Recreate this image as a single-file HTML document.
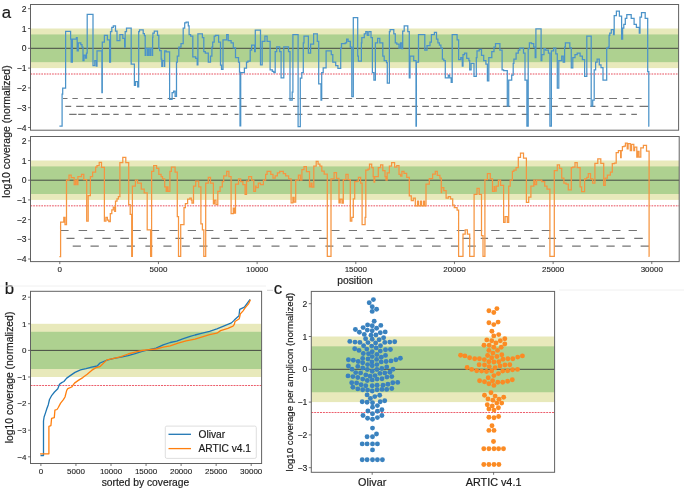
<!DOCTYPE html>
<html><head><meta charset="utf-8"><style>
html,body{margin:0;padding:0;background:#fff;width:684px;height:488px;overflow:hidden}
svg{display:block;will-change:transform}
</style></head><body>
<svg width="684" height="488" viewBox="0 0 684 488" font-family='"Liberation Sans", sans-serif'>
<rect width="684" height="488" fill="#fff"/>
<rect x="30.5" y="28.499999999999996" width="648.1" height="39.6" fill="#e8e9bb"/>
<rect x="30.5" y="34.44" width="648.1" height="27.72" fill="#aed190"/>
<line x1="30.5" y1="48.3" x2="678.6" y2="48.3" stroke="#3a3a3a" stroke-width="0.9"/>
<line x1="30.5" y1="74.03999999999999" x2="678.6" y2="74.03999999999999" stroke="#f08a94" stroke-width="1.4" stroke-dasharray="1.7 1"/>
<path d="M63.0 98.5H67.5M72.4 98.5H77.8M84.4 98.5H91.4M96.3 98.5H102.6M106.3 98.5H111.7M117.2 98.5H125.4M130.3 98.5H134.9M142.7 98.5H150.1M156.4 98.5H162.3M167.6 98.5H175.2M180.5 98.5H185.7M190.6 98.5H196.3M202.9 98.5H208.7M213.6 98.5H221.0M226.2 98.5H232.4M237.6 98.5H243.8M250.4 98.5H256.6M262.5 98.5H270.1M274.4 98.5H282.4M288.6 98.5H294.8M299.7 98.5H306.3M311.0 98.5H317.6M321.9 98.5H328.7M333.0 98.5H338.7M345.3 98.5H352.1M356.0 98.5H364.0M369.2 98.5H376.2M383.5 98.5H390.9M396.9 98.5H404.3M409.4 98.5H414.8M419.5 98.5H424.8M431.0 98.5H437.2M439.2 98.5H446.0M451.5 98.5H458.3M462.6 98.5H470.0M475.4 98.5H482.8M488.3 98.5H495.7M500.6 98.5H507.7M512.4 98.5H519.8M527.0 98.5H533.3M536.4 98.5H540.9M547.5 98.5H552.6M558.6 98.5H566.0M572.7 98.5H580.8M586.8 98.5H590.7M595.0 98.5H603.6M609.1 98.5H617.0M623.1 98.5H628.7M635.4 98.5H641.6M65.3 106.4H71.2M76.2 106.4H83.6M87.6 106.4H94.4M98.1 106.4H105.1M110.1 106.4H117.2M120.7 106.4H128.5M132.5 106.4H140.7M147.9 106.4H155.3M159.4 106.4H167.0M171.1 106.4H178.7M183.6 106.4H189.8M192.4 106.4H199.8M207.0 106.4H212.8M217.7 106.4H225.7M230.5 106.4H236.8M240.5 106.4H246.7M255.5 106.4H260.7M268.3 106.4H273.6M279.7 106.4H286.6M293.0 106.4H298.9M302.6 106.4H309.4M313.1 106.4H320.0M326.6 106.4H332.2M337.1 106.4H343.3M348.0 106.4H353.9M361.2 106.4H367.5M374.7 106.4H382.7M388.7 106.4H395.0M402.2 106.4H409.6M411.8 106.4H417.8M422.3 106.4H428.9M433.2 106.4H439.0M444.2 106.4H451.2M456.4 106.4H462.3M468.4 106.4H475.8M479.5 106.4H487.5M491.8 106.4H499.8M502.9 106.4H510.4M517.7 106.4H525.1M528.8 106.4H535.6M539.3 106.4H545.5M551.0 106.4H557.8M564.5 106.4H571.3M577.3 106.4H584.9M590.3 106.4H595.4M601.5 106.4H608.3M614.3 106.4H622.3M626.6 106.4H633.4M639.5 106.4H648.4M69.2 114.3H76.6M78.2 114.3H85.6M91.1 114.3H97.9M101.9 114.3H109.6M113.3 114.3H118.7M125.3 114.3H131.8M138.6 114.3H145.4M152.6 114.3H159.4M165.3 114.3H170.0M176.0 114.3H182.8M187.1 114.3H192.8M197.7 114.3H204.5M210.7 114.3H217.5M222.9 114.3H228.0M234.6 114.3H238.5M245.2 114.3H252.6M258.0 114.3H265.4M271.5 114.3H277.7M283.2 114.3H290.7M295.0 114.3H302.4M307.5 114.3H312.3M317.8 114.3H325.8M328.9 114.3H335.7M340.0 114.3H347.4M352.3 114.3H358.1M365.3 114.3H372.7M379.4 114.3H386.8M391.9 114.3H399.0M406.3 114.3H411.9M416.2 114.3H420.7M426.7 114.3H433.7M436.2 114.3H443.6M448.5 114.3H455.9M459.6 114.3H467.6M471.9 114.3H478.7M484.2 114.3H491.0M495.3 114.3H503.3M508.2 114.3H515.7M521.8 114.3H528.0M534.1 114.3H539.1M544.6 114.3H550.2M556.3 114.3H563.1M568.6 114.3H573.6M580.8 114.3H589.0M593.3 114.3H601.2M606.1 114.3H611.8M619.6 114.3H625.8M631.3 114.3H636.9" stroke="#747474" stroke-width="1.2" fill="none"/>
<polyline points="59.4,126.1 62.1,126.1 62.1,94.1 62.7,94.1 62.7,88.2 65.6,88.2 65.6,31.3 70.6,31.3 70.6,39.0 71.2,39.0 71.2,62.0 72.4,62.0 72.4,39.0 76.4,39.0 76.4,37.6 77.2,37.6 77.2,50.9 78.3,50.9 78.3,42.8 80.8,42.8 80.8,44.5 82.0,44.5 82.0,47.0 83.0,47.0 83.0,60.5 84.0,60.5 84.0,55.0 85.5,55.0 85.5,58.0 86.5,58.0 86.5,53.0 87.2,53.0 87.2,14.3 93.0,14.3 93.0,65.6 94.8,65.6 94.8,60.5 96.3,60.5 96.3,66.0 97.0,66.0 97.0,50.9 101.9,50.9 101.9,92.7 102.3,92.7 102.3,42.0 104.4,42.0 104.4,35.4 107.4,35.4 107.4,39.8 109.6,39.8 109.6,62.0 110.5,62.0 110.5,31.7 111.8,31.7 111.8,27.3 113.3,27.3 113.3,25.8 115.5,25.8 115.5,31.0 117.0,31.0 117.0,40.6 119.9,40.6 119.9,34.7 122.8,34.7 122.8,38.3 124.6,38.3 124.6,47.2 125.2,47.2 125.2,31.7 126.5,31.7 126.5,28.0 131.2,28.0 131.2,64.2 134.4,64.2 134.4,85.3 135.5,85.3 135.5,81.6 137.7,81.6 137.7,86.8 138.7,86.8 138.7,31.7 139.5,31.7 139.5,29.9 143.2,29.9 143.2,33.6 144.4,33.6 144.4,35.7 145.2,35.7 145.2,55.3 145.5,55.3 145.5,48.4 147.2,48.4 147.2,55.3 147.5,55.3 147.5,48.4 148.8,48.4 148.8,55.3 149.1,55.3 149.1,48.4 150.5,48.4 150.5,55.3 150.8,55.3 150.8,48.4 152.4,48.4 152.4,55.3 152.6,55.3 152.6,37.3 152.9,37.3 152.9,33.2 154.3,33.2 154.3,31.1 157.5,31.1 157.5,35.3 158.8,35.3 158.8,48.4 159.6,48.4 159.6,50.5 161.2,50.5 161.2,59.0 161.8,59.0 161.8,66.4 162.5,66.4 162.5,60.5 164.3,60.5 164.3,66.4 164.7,66.4 164.7,50.9 166.2,50.9 166.2,51.9 169.6,51.9 169.6,99.3 172.1,99.3 172.1,92.7 173.6,92.7 173.6,91.2 175.1,91.2 175.1,96.3 176.5,96.3 176.5,62.0 177.3,62.0 177.3,56.0 178.8,56.0 178.8,47.2 181.0,47.2 181.0,43.5 183.2,43.5 183.2,28.0 184.7,28.0 184.7,22.9 186.1,22.9 186.1,22.1 188.3,22.1 188.3,25.8 189.1,25.8 189.1,34.7 190.6,34.7 190.6,36.1 192.8,36.1 192.8,56.8 195.7,56.8 195.7,58.3 197.2,58.3 197.2,64.9 197.9,64.9 197.9,33.9 202.4,33.9 202.4,37.6 203.8,37.6 203.8,51.6 205.3,51.6 205.3,53.1 208.3,53.1 208.3,62.0 210.5,62.0 210.5,56.0 211.9,56.0 211.9,47.0 212.7,47.0 212.7,42.0 214.2,42.0 214.2,36.1 215.6,36.1 215.6,35.4 218.6,35.4 218.6,42.0 220.5,42.0 220.5,65.0 221.5,65.0 221.5,69.3 223.0,69.3 223.0,39.8 226.7,39.8 226.7,34.7 228.2,34.7 228.2,40.6 231.1,40.6 231.1,42.8 233.3,42.8 233.3,47.9 235.5,47.9 235.5,57.5 238.5,57.5 238.5,62.0 239.5,62.0 239.5,72.0 240.0,72.0 240.0,125.8 240.7,125.8 240.7,72.7 244.4,72.7 244.4,68.0 246.5,68.0 246.5,62.0 247.9,62.0 247.9,61.2 250.2,61.2 250.2,50.1 251.6,50.1 251.6,45.0 254.6,45.0 254.6,51.6 255.3,51.6 255.3,30.2 260.5,30.2 260.5,64.9 262.2,64.9 262.2,41.3 264.9,41.3 264.9,36.1 267.1,36.1 267.1,41.3 270.1,41.3 270.1,69.8 272.3,69.8 272.3,71.3 273.8,71.3 273.8,72.7 275.2,72.7 275.2,51.6 276.7,51.6 276.7,46.9 279.7,46.9 279.7,51.6 281.1,51.6 281.1,77.9 283.8,77.9 283.8,46.9 288.5,46.9 288.5,51.6 290.0,51.6 290.0,100.0 292.2,100.0 292.2,92.0 292.9,92.0 292.9,34.7 298.1,34.7 298.1,126.6 300.3,126.6 300.3,78.0 301.8,78.0 301.8,72.7 303.3,72.7 303.3,42.8 304.0,42.8 304.0,36.1 308.4,36.1 308.4,53.1 310.6,53.1 310.6,44.2 313.6,44.2 313.6,33.9 317.3,33.9 317.3,41.3 318.7,41.3 318.7,83.8 321.0,83.8 321.0,100.0 321.7,100.0 321.7,72.7 323.2,72.7 323.2,67.8 326.1,67.8 326.1,50.9 331.3,50.9 331.3,54.6 332.8,54.6 332.8,62.0 335.7,62.0 335.7,65.5 337.9,65.5 337.9,68.3 340.7,68.3 340.7,48.0 341.5,48.0 341.5,43.5 345.2,43.5 345.2,42.8 346.6,42.8 346.6,39.0 348.1,39.0 348.1,41.3 350.3,41.3 350.3,47.2 351.8,47.2 351.8,96.6 353.3,96.6 353.3,17.7 357.7,17.7 357.7,56.0 358.4,56.0 358.4,61.2 361.4,61.2 361.4,42.8 361.8,42.8 361.8,37.6 364.3,37.6 364.3,33.9 365.8,33.9 365.8,31.7 367.3,31.7 367.3,35.4 368.8,35.4 368.8,31.7 371.0,31.7 371.0,37.6 372.4,37.6 372.4,72.7 373.9,72.7 373.9,80.1 375.4,80.1 375.4,42.8 377.6,42.8 377.6,38.3 379.8,38.3 379.8,42.8 382.8,42.8 382.8,56.0 384.2,56.0 384.2,60.5 386.5,60.5 386.5,62.5 387.3,62.5 387.3,83.0 389.4,83.0 389.4,31.7 390.1,31.7 390.1,29.5 393.8,29.5 393.8,33.9 395.3,33.9 395.3,42.8 396.8,42.8 396.8,44.2 399.0,44.2 399.0,48.0 400.5,48.0 400.5,42.8 401.9,42.8 401.9,48.7 402.7,48.7 402.7,31.0 404.2,31.0 404.2,25.8 407.8,25.8 407.8,31.7 409.3,31.7 409.3,77.9 410.0,77.9 410.0,56.0 413.7,56.0 413.7,60.5 416.0,60.5 416.0,126.1 416.4,126.1 416.4,62.0 418.5,62.0 418.5,34.7 424.8,34.7 424.8,50.1 427.0,50.1 427.0,45.7 430.0,45.7 430.0,42.0 431.4,42.0 431.4,34.7 434.4,34.7 434.4,32.4 436.5,32.4 436.5,39.1 437.9,39.1 437.9,42.8 439.4,42.8 439.4,45.0 440.9,45.0 440.9,48.0 442.4,48.0 442.4,59.0 443.8,59.0 443.8,60.5 445.3,60.5 445.3,77.9 448.3,77.9 448.3,75.0 449.7,75.0 449.7,77.9 451.2,77.9 451.2,82.3 452.2,82.3 452.2,34.7 457.1,34.7 457.1,39.8 458.6,39.8 458.6,59.7 460.8,59.7 460.8,57.5 462.3,57.5 462.3,66.1 463.0,66.1 463.0,54.6 464.5,54.6 464.5,53.1 466.7,53.1 466.7,58.3 468.9,58.3 468.9,60.5 469.7,60.5 469.7,69.8 471.1,69.8 471.1,63.4 474.0,63.4 474.0,76.4 476.3,76.4 476.3,57.5 477.0,57.5 477.0,50.9 479.2,50.9 479.2,49.4 481.5,49.4 481.5,55.3 483.7,55.3 483.7,60.5 485.9,60.5 485.9,64.2 487.4,64.2 487.4,80.9 488.8,80.9 488.8,57.5 491.8,57.5 491.8,51.6 494.0,51.6 494.0,47.2 495.5,47.2 495.5,43.5 499.9,43.5 499.9,50.1 502.1,50.1 502.1,69.8 503.6,69.8 503.6,70.5 507.3,70.5 507.3,106.0 508.7,106.0 508.7,80.1 511.7,80.1 511.7,75.0 513.2,75.0 513.2,63.4 513.9,63.4 513.9,59.0 516.1,59.0 516.1,53.1 518.3,53.1 518.3,50.1 519.8,50.1 519.8,48.0 523.5,48.0 523.5,53.1 525.0,53.1 525.0,80.1 526.9,80.1 526.9,126.1 528.2,126.1 528.2,48.7 529.4,48.7 529.4,42.8 531.5,42.8 531.5,43.5 533.7,43.5 533.7,47.2 535.2,47.2 535.2,57.5 535.9,57.5 535.9,28.8 541.1,28.8 541.1,60.5 541.8,60.5 541.8,54.6 544.0,54.6 544.0,48.7 545.5,48.7 545.5,50.1 548.4,50.1 548.4,53.1 549.9,53.1 549.9,126.1 551.4,126.1 551.4,50.9 553.6,50.9 553.6,48.0 555.8,48.0 555.8,53.8 557.3,53.8 557.3,88.2 558.8,88.2 558.8,60.5 561.7,60.5 561.7,56.0 563.2,56.0 563.2,62.0 564.6,62.0 564.6,47.2 565.4,47.2 565.4,42.8 569.8,42.8 569.8,47.9 571.3,47.9 571.3,67.8 572.8,67.8 572.8,57.5 575.0,57.5 575.0,54.6 577.2,54.6 577.2,53.1 580.1,53.1 580.1,56.0 582.4,56.0 582.4,59.7 584.6,59.7 584.6,76.4 586.8,76.4 586.8,36.1 591.2,36.1 591.2,106.0 592.7,106.0 592.7,100.0 594.2,100.0 594.2,69.8 595.6,69.8 595.6,62.0 597.1,62.0 597.1,59.0 599.3,59.0 599.3,64.9 601.0,64.9 601.0,67.6 603.0,67.6 603.0,80.1 606.7,80.1 606.7,48.0 608.3,48.0 608.3,47.2 609.1,47.2 609.1,35.4 609.8,35.4 609.8,33.2 611.3,33.2 611.3,29.5 613.5,29.5 613.5,34.7 614.2,34.7 614.2,15.5 616.4,15.5 616.4,11.1 619.4,11.1 619.4,16.2 621.6,16.2 621.6,39.1 622.6,39.1 622.6,28.0 623.8,28.0 623.8,24.3 625.3,24.3 625.3,18.4 626.8,18.4 626.8,14.7 631.2,14.7 631.2,18.4 634.1,18.4 634.1,24.3 636.4,24.3 636.4,27.3 639.3,27.3 639.3,33.2 640.0,33.2 640.0,17.0 641.5,17.0 641.5,12.5 645.2,12.5 645.2,18.4 647.7,18.4 647.7,71.7 648.8,71.7 648.8,126.2 649.3,126.2 649.3,126.2" fill="none" stroke="#4b93c9" stroke-width="1.25" stroke-linejoin="miter"/>
<rect x="30.5" y="4.5" width="648.1" height="125.69999999999999" fill="none" stroke="#626262" stroke-width="1"/>
<line x1="28.0" y1="127.5" x2="30.5" y2="127.5" stroke="#505050" stroke-width="0.8"/>
<text x="26.5" y="130.58" font-size="8.6" text-anchor="end" fill="#1a1a1a" stroke="#1a1a1a" stroke-width="0.1">−4</text>
<line x1="28.0" y1="107.7" x2="30.5" y2="107.7" stroke="#505050" stroke-width="0.8"/>
<text x="26.5" y="110.78" font-size="8.6" text-anchor="end" fill="#1a1a1a" stroke="#1a1a1a" stroke-width="0.1">−3</text>
<line x1="28.0" y1="87.9" x2="30.5" y2="87.9" stroke="#505050" stroke-width="0.8"/>
<text x="26.5" y="90.98" font-size="8.6" text-anchor="end" fill="#1a1a1a" stroke="#1a1a1a" stroke-width="0.1">−2</text>
<line x1="28.0" y1="68.1" x2="30.5" y2="68.1" stroke="#505050" stroke-width="0.8"/>
<text x="26.5" y="71.18" font-size="8.6" text-anchor="end" fill="#1a1a1a" stroke="#1a1a1a" stroke-width="0.1">−1</text>
<line x1="28.0" y1="48.3" x2="30.5" y2="48.3" stroke="#505050" stroke-width="0.8"/>
<text x="26.5" y="51.38" font-size="8.6" text-anchor="end" fill="#1a1a1a" stroke="#1a1a1a" stroke-width="0.1">0</text>
<line x1="28.0" y1="28.499999999999996" x2="30.5" y2="28.499999999999996" stroke="#505050" stroke-width="0.8"/>
<text x="26.5" y="31.58" font-size="8.6" text-anchor="end" fill="#1a1a1a" stroke="#1a1a1a" stroke-width="0.1">1</text>
<line x1="28.0" y1="8.699999999999996" x2="30.5" y2="8.699999999999996" stroke="#505050" stroke-width="0.8"/>
<text x="26.5" y="11.78" font-size="8.6" text-anchor="end" fill="#1a1a1a" stroke="#1a1a1a" stroke-width="0.1">2</text>
<rect x="30.5" y="160.5" width="648.7" height="39.4" fill="#e8e9bb"/>
<rect x="30.5" y="166.41" width="648.7" height="27.58" fill="#aed190"/>
<line x1="30.5" y1="180.2" x2="679.2" y2="180.2" stroke="#3a3a3a" stroke-width="0.9"/>
<line x1="30.5" y1="205.81" x2="679.2" y2="205.81" stroke="#f08a94" stroke-width="1.4" stroke-dasharray="1.7 1"/>
<path d="M60.7 230.5H68.6M78.6 230.5H87.1M96.3 230.5H104.7M114.8 230.5H123.4M132.3 230.5H140.7M151.2 230.5H159.1M169.6 230.5H177.6M187.7 230.5H196.0M205.3 230.5H213.4M223.9 230.5H232.1M240.5 230.5H248.8M258.6 230.5H267.2M277.0 230.5H285.4M295.4 230.5H303.6M313.1 230.5H321.5M331.3 230.5H339.5M348.8 230.5H357.0M366.5 230.5H374.5M383.5 230.5H391.8M401.6 230.5H409.6M419.7 230.5H428.3M438.6 230.5H446.6M456.7 230.5H464.7M474.3 230.5H482.2M491.2 230.5H499.5M506.8 230.5H516.3M524.1 230.5H532.7M541.7 230.5H550.2M559.4 230.5H568.3M577.3 230.5H586.0M595.6 230.5H603.9M612.2 230.5H620.5M628.6 230.5H636.9M66.5 238.4H74.5M84.4 238.4H92.6M102.4 238.4H110.7M120.3 238.4H128.9M138.6 238.4H146.9M157.1 238.4H165.3M175.4 238.4H183.6M193.0 238.4H201.2M211.2 238.4H219.6M229.4 238.4H237.9M246.9 238.4H254.9M265.0 238.4H273.6M282.8 238.4H291.3M301.2 238.4H309.4M319.0 238.4H327.0M337.1 238.4H345.3M355.3 238.4H363.0M372.7 238.4H380.9M389.3 238.4H397.6M407.4 238.4H415.7M425.6 238.4H434.6M444.4 238.4H452.4M462.6 238.4H470.5M480.7 238.4H488.1M495.9 238.4H503.9M512.4 238.4H521.0M530.5 238.4H538.8M548.1 238.4H556.1M565.6 238.4H574.2M583.5 238.4H592.5M601.5 238.4H609.8M616.1 238.4H624.6M634.2 238.4H642.8M72.7 246.2H80.9M90.5 246.2H98.8M109.0 246.2H117.2M126.7 246.2H134.9M145.4 246.2H153.0M163.4 246.2H171.5M181.9 246.2H189.8M199.4 246.2H207.5M217.7 246.2H225.7M235.6 246.2H244.1M252.8 246.2H260.7M271.5 246.2H279.5M289.5 246.2H297.7M307.1 246.2H315.3M325.4 246.2H333.4M343.0 246.2H351.2M360.1 246.2H368.4M377.6 246.2H385.9M395.2 246.2H403.5M413.3 246.2H421.9M432.0 246.2H440.7M450.9 246.2H458.8M467.8 246.2H475.8M485.4 246.2H492.8M502.0 246.2H509.9M518.0 246.2H526.2M537.0 246.2H545.0M554.3 246.2H562.5M572.1 246.2H580.8M590.3 246.2H598.3M606.4 246.2H614.7M622.3 246.2H630.8M640.6 246.2H649.0" stroke="#747474" stroke-width="1.2" fill="none"/>
<polyline points="59.4,256.6 60.6,256.6 60.6,222.2 63.8,222.2 63.8,217.3 65.0,217.3 65.0,224.7 66.5,224.7 66.5,180.2 69.0,180.2 69.0,175.1 71.2,175.1 71.2,177.5 74.2,177.5 74.2,184.7 75.6,184.7 75.6,180.0 77.0,180.0 77.0,184.7 77.9,184.7 77.9,176.6 81.5,176.6 81.5,174.3 83.8,174.3 83.8,179.5 86.7,179.5 86.7,221.0 88.2,221.0 88.2,195.5 90.4,195.5 90.4,176.6 92.6,176.6 92.6,172.1 95.6,172.1 95.6,167.0 97.0,167.0 97.0,165.5 99.2,165.5 99.2,162.3 101.5,162.3 101.5,167.3 104.4,167.3 104.4,221.0 105.9,221.0 105.9,217.3 107.4,217.3 107.4,220.2 108.8,220.2 108.8,221.7 110.3,221.7 110.3,213.6 111.8,213.6 111.8,209.9 113.3,209.9 113.3,207.0 114.7,207.0 114.7,211.4 115.5,211.4 115.5,201.0 117.0,201.0 117.0,198.9 118.4,198.9 118.4,196.6 119.9,196.6 119.9,162.5 122.8,162.5 122.8,157.4 125.8,157.4 125.8,162.5 128.7,162.5 128.7,204.7 130.2,204.7 130.2,214.3 131.7,214.3 131.7,256.4 132.4,256.4 132.4,186.1 135.4,186.1 135.4,180.2 137.6,180.2 137.6,183.2 141.3,183.2 141.3,189.1 144.2,189.1 144.2,192.8 147.2,192.8 147.2,229.8 150.6,229.8 150.6,256.4 151.6,256.4 151.6,171.4 153.7,171.4 153.7,165.5 156.6,165.5 156.6,168.4 158.8,168.4 158.8,174.3 161.1,174.3 161.1,176.6 162.5,176.6 162.5,178.8 164.7,178.8 164.7,186.9 166.2,186.9 166.2,191.3 167.0,191.3 167.0,186.9 168.0,186.9 168.0,191.3 169.9,191.3 169.9,171.4 171.4,171.4 171.4,167.0 175.1,167.0 175.1,172.1 177.3,172.1 177.3,216.5 178.5,216.5 178.5,256.4 180.7,256.4 180.7,224.7 184.0,224.7 184.0,207.7 185.4,207.7 185.4,203.5 187.6,203.5 187.6,199.0 189.8,199.0 189.8,198.0 191.3,198.0 191.3,200.0 192.0,200.0 192.0,203.0 193.5,203.0 193.5,186.1 195.7,186.1 195.7,181.0 198.7,181.0 198.7,186.9 200.9,186.9 200.9,223.9 202.4,223.9 202.4,229.8 203.8,229.8 203.8,256.4 205.7,256.4 205.7,183.2 208.3,183.2 208.3,177.3 210.5,177.3 210.5,183.2 213.4,183.2 213.4,203.8 214.5,203.8 214.5,200.0 216.0,200.0 216.0,204.5 217.8,204.5 217.8,191.3 220.1,191.3 220.1,186.9 222.3,186.9 222.3,181.7 223.7,181.7 223.7,175.8 226.7,175.8 226.7,171.4 228.9,171.4 228.9,176.6 231.1,176.6 231.1,213.6 233.3,213.6 233.3,208.0 234.5,208.0 234.5,213.0 235.5,213.0 235.5,184.0 238.5,184.0 238.5,178.8 240.7,178.8 240.7,181.7 242.9,181.7 242.9,184.7 245.1,184.7 245.1,194.4 246.5,194.4 246.5,181.0 248.7,181.0 248.7,176.6 251.6,176.6 251.6,180.2 253.8,180.2 253.8,191.3 255.5,191.3 255.5,186.0 256.1,186.0 256.1,187.6 258.3,187.6 258.3,183.2 260.5,183.2 260.5,184.7 263.4,184.7 263.4,180.2 265.6,180.2 265.6,174.3 267.1,174.3 267.1,171.4 270.8,171.4 270.8,174.3 273.0,174.3 273.0,178.0 275.2,178.0 275.2,175.8 277.4,175.8 277.4,172.9 279.7,172.9 279.7,171.4 283.3,171.4 283.3,173.6 285.6,173.6 285.6,175.8 288.6,175.8 288.6,178.9 291.1,178.9 291.1,202.8 292.9,202.8 292.9,197.3 294.1,197.3 294.1,202.2 295.7,202.2 295.7,180.1 298.4,180.1 298.4,175.2 300.3,175.2 300.3,180.0 301.9,180.0 301.9,169.7 304.0,169.7 304.0,166.6 306.4,166.6 306.4,171.5 309.5,171.5 309.5,186.9 311.0,186.9 311.0,183.0 312.0,183.0 312.0,187.0 313.8,187.0 313.8,166.0 316.2,166.0 316.2,161.3 318.1,161.3 318.1,164.1 319.9,164.1 319.9,166.0 321.8,166.0 321.8,171.0 324.2,171.0 324.2,174.0 327.3,174.0 327.3,256.4 331.0,256.4 331.0,178.9 334.1,178.9 334.1,172.7 336.5,172.7 336.5,178.3 339.0,178.3 339.0,202.8 340.2,202.8 340.2,199.0 342.0,199.0 342.0,203.0 343.3,203.0 343.3,179.5 345.9,179.5 345.9,174.3 348.1,174.3 348.1,179.5 350.3,179.5 350.3,221.0 351.8,221.0 351.8,217.3 353.3,217.3 353.3,198.8 354.7,198.8 354.7,181.7 357.0,181.7 357.0,181.0 358.4,181.0 358.4,177.3 360.6,177.3 360.6,183.2 362.1,183.2 362.1,224.7 365.1,224.7 365.1,217.3 365.8,217.3 365.8,170.0 368.0,170.0 368.0,169.2 369.5,169.2 369.5,164.0 371.7,164.0 371.7,167.7 373.2,167.7 373.2,176.6 374.0,176.6 374.0,182.0 374.7,182.0 374.7,176.6 378.3,176.6 378.3,167.7 380.6,167.7 380.6,164.8 382.8,164.8 382.8,170.7 385.0,170.7 385.0,176.6 386.0,176.6 386.0,180.0 387.2,180.0 387.2,172.9 389.4,172.9 389.4,166.2 391.6,166.2 391.6,162.5 394.6,162.5 394.6,167.0 396.8,167.0 396.8,165.5 399.0,165.5 399.0,174.3 400.5,174.3 400.5,176.0 401.9,176.0 401.9,171.4 404.0,171.4 404.0,173.3 406.7,173.3 406.7,177.3 409.3,177.3 409.3,195.9 411.3,195.9 411.3,200.6 413.3,200.6 413.3,198.0 415.3,198.0 415.3,205.9 417.5,205.9 417.5,201.0 418.5,201.0 418.5,205.9 420.5,205.9 420.5,201.0 421.5,201.0 421.5,205.9 423.5,205.9 423.5,201.0 424.5,201.0 424.5,205.9 426.0,205.9 426.0,184.0 429.3,184.0 429.3,178.6 432.6,178.6 432.6,174.0 435.3,174.0 435.3,171.3 437.3,171.3 437.3,175.3 439.9,175.3 439.9,178.0 441.3,178.0 441.3,192.6 441.6,192.6 441.6,187.6 443.8,187.6 443.8,190.6 446.1,190.6 446.1,198.1 448.3,198.1 448.3,196.6 450.5,196.6 450.5,198.8 452.7,198.8 452.7,205.0 454.3,205.0 454.3,207.7 457.1,207.7 457.1,210.0 458.6,210.0 458.6,256.4 463.0,256.4 463.0,234.2 465.2,234.2 465.2,229.8 467.4,229.8 467.4,234.2 469.7,234.2 469.7,256.4 474.1,256.4 474.1,194.3 477.0,194.3 477.0,188.4 479.2,188.4 479.2,194.3 481.5,194.3 481.5,235.7 483.0,235.7 483.0,256.4 484.9,256.4 484.9,179.5 487.4,179.5 487.4,173.6 490.3,173.6 490.3,178.8 492.5,178.8 492.5,191.3 494.2,191.3 494.2,186.5 494.7,186.5 494.7,191.0 496.2,191.0 496.2,186.1 498.4,186.1 498.4,180.2 500.6,180.2 500.6,185.4 503.6,185.4 503.6,222.4 505.1,222.4 505.1,216.5 507.3,216.5 507.3,222.4 508.7,222.4 508.7,186.1 510.2,186.1 510.2,180.2 512.4,180.2 512.4,171.4 513.9,171.4 513.9,170.0 516.1,170.0 516.1,167.7 518.3,167.7 518.3,157.4 520.5,157.4 520.5,153.0 523.5,153.0 523.5,158.1 526.4,158.1 526.4,202.4 528.7,202.4 528.7,197.2 530.9,197.2 530.9,186.1 533.8,186.1 533.8,180.2 535.0,180.2 535.0,184.7 536.6,184.7 536.6,180.0 541.8,180.0 541.8,181.7 544.7,181.7 544.7,186.1 547.0,186.1 547.0,189.1 549.9,189.1 549.9,256.4 554.3,256.4 554.3,170.7 557.3,170.7 557.3,164.8 559.5,164.8 559.5,168.4 561.7,168.4 561.7,178.0 563.9,178.0 563.9,183.2 566.1,183.2 566.1,184.0 568.3,184.0 568.3,189.8 571.3,189.8 571.3,167.7 572.8,167.7 572.8,167.0 575.0,167.0 575.0,162.5 577.2,162.5 577.2,167.7 580.1,167.7 580.1,186.9 581.6,186.9 581.6,191.5 584.6,191.5 584.6,178.8 586.8,178.8 586.8,177.3 588.3,177.3 588.3,173.6 590.5,173.6 590.5,178.8 592.7,178.8 592.7,183.2 594.9,183.2 594.9,163.3 597.8,163.3 597.8,158.9 600.8,158.9 600.8,163.3 603.7,163.3 603.7,185.4 605.2,185.4 605.2,178.0 607.4,178.0 607.4,175.1 610.4,175.1 610.4,172.1 612.3,172.1 612.3,163.7 614.5,163.7 614.5,163.2 616.2,163.2 616.2,152.7 618.4,152.7 618.4,150.5 620.6,150.5 620.6,157.5 621.2,157.5 621.2,150.5 622.4,150.5 622.4,146.6 624.1,146.6 624.1,146.2 625.4,146.2 625.4,143.1 627.2,143.1 627.2,148.8 628.1,148.8 628.1,143.5 630.3,143.5 630.3,150.5 631.6,150.5 631.6,144.4 633.8,144.4 633.8,150.5 634.6,150.5 634.6,147.0 636.8,147.0 636.8,157.1 637.7,157.1 637.7,151.4 639.0,151.4 639.0,157.1 640.8,157.1 640.8,147.9 643.4,147.9 643.4,145.3 646.5,145.3 646.5,151.0 649.1,151.0 649.1,256.3 649.5,256.3 649.5,256.3" fill="none" stroke="#f69540" stroke-width="1.25" stroke-linejoin="miter"/>
<rect x="30.5" y="136.5" width="648.7" height="125.10000000000002" fill="none" stroke="#626262" stroke-width="1"/>
<line x1="28.0" y1="259.0" x2="30.5" y2="259.0" stroke="#505050" stroke-width="0.8"/>
<text x="26.5" y="262.08" font-size="8.6" text-anchor="end" fill="#1a1a1a" stroke="#1a1a1a" stroke-width="0.1">−4</text>
<line x1="28.0" y1="239.29999999999998" x2="30.5" y2="239.29999999999998" stroke="#505050" stroke-width="0.8"/>
<text x="26.5" y="242.38" font-size="8.6" text-anchor="end" fill="#1a1a1a" stroke="#1a1a1a" stroke-width="0.1">−3</text>
<line x1="28.0" y1="219.6" x2="30.5" y2="219.6" stroke="#505050" stroke-width="0.8"/>
<text x="26.5" y="222.68" font-size="8.6" text-anchor="end" fill="#1a1a1a" stroke="#1a1a1a" stroke-width="0.1">−2</text>
<line x1="28.0" y1="199.89999999999998" x2="30.5" y2="199.89999999999998" stroke="#505050" stroke-width="0.8"/>
<text x="26.5" y="202.98" font-size="8.6" text-anchor="end" fill="#1a1a1a" stroke="#1a1a1a" stroke-width="0.1">−1</text>
<line x1="28.0" y1="180.2" x2="30.5" y2="180.2" stroke="#505050" stroke-width="0.8"/>
<text x="26.5" y="183.28" font-size="8.6" text-anchor="end" fill="#1a1a1a" stroke="#1a1a1a" stroke-width="0.1">0</text>
<line x1="28.0" y1="160.5" x2="30.5" y2="160.5" stroke="#505050" stroke-width="0.8"/>
<text x="26.5" y="163.58" font-size="8.6" text-anchor="end" fill="#1a1a1a" stroke="#1a1a1a" stroke-width="0.1">1</text>
<line x1="28.0" y1="140.79999999999998" x2="30.5" y2="140.79999999999998" stroke="#505050" stroke-width="0.8"/>
<text x="26.5" y="143.88" font-size="8.6" text-anchor="end" fill="#1a1a1a" stroke="#1a1a1a" stroke-width="0.1">2</text>
<line x1="59.8" y1="261.6" x2="59.8" y2="264.1" stroke="#505050" stroke-width="0.8"/>
<text x="59.8" y="271.6" font-size="8.0" text-anchor="middle" fill="#1a1a1a" stroke="#1a1a1a" stroke-width="0.1">0</text>
<line x1="158.465" y1="261.6" x2="158.465" y2="264.1" stroke="#505050" stroke-width="0.8"/>
<text x="158.47" y="271.6" font-size="8.0" text-anchor="middle" fill="#1a1a1a" stroke="#1a1a1a" stroke-width="0.1">5000</text>
<line x1="257.13" y1="261.6" x2="257.13" y2="264.1" stroke="#505050" stroke-width="0.8"/>
<text x="257.13" y="271.6" font-size="8.0" text-anchor="middle" fill="#1a1a1a" stroke="#1a1a1a" stroke-width="0.1">10000</text>
<line x1="355.795" y1="261.6" x2="355.795" y2="264.1" stroke="#505050" stroke-width="0.8"/>
<text x="355.8" y="271.6" font-size="8.0" text-anchor="middle" fill="#1a1a1a" stroke="#1a1a1a" stroke-width="0.1">15000</text>
<line x1="454.46000000000004" y1="261.6" x2="454.46000000000004" y2="264.1" stroke="#505050" stroke-width="0.8"/>
<text x="454.46" y="271.6" font-size="8.0" text-anchor="middle" fill="#1a1a1a" stroke="#1a1a1a" stroke-width="0.1">20000</text>
<line x1="553.125" y1="261.6" x2="553.125" y2="264.1" stroke="#505050" stroke-width="0.8"/>
<text x="553.12" y="271.6" font-size="8.0" text-anchor="middle" fill="#1a1a1a" stroke="#1a1a1a" stroke-width="0.1">25000</text>
<line x1="651.79" y1="261.6" x2="651.79" y2="264.1" stroke="#505050" stroke-width="0.8"/>
<text x="651.79" y="271.6" font-size="8.0" text-anchor="middle" fill="#1a1a1a" stroke="#1a1a1a" stroke-width="0.1">30000</text>
<text x="355" y="283.6" font-size="10.3" text-anchor="middle" fill="#1a1a1a" stroke="#1a1a1a" stroke-width="0.18">position</text>
<text x="10.4" y="131.5" font-size="10.45" text-anchor="middle" fill="#1a1a1a" stroke="#1a1a1a" stroke-width="0.18" transform="rotate(-90 10.4 131.5)">log10 coverage (normalized)</text>
<text x="6.5" y="18.0" font-size="16.8" text-anchor="middle" fill="#1a1a1a" stroke="#1a1a1a" stroke-width="0.18">a</text>
<rect x="30.5" y="323.79999999999995" width="231.10000000000002" height="53.2" fill="#e8e9bb"/>
<rect x="30.5" y="331.78" width="231.10000000000002" height="37.24" fill="#aed190"/>
<line x1="30.5" y1="350.4" x2="261.6" y2="350.4" stroke="#3a3a3a" stroke-width="0.9"/>
<line x1="30.5" y1="385.5" x2="261.6" y2="385.5" stroke="#ec5f6d" stroke-width="1.0" stroke-dasharray="2 0.9"/>
<polyline points="40.5,455.5 43.5,455.5 43.5,421.0 44.1,417.0 45.5,412.9 46.8,408.8 48.3,404.7 49.5,399.5 51.8,395.3 54.5,392.0 57.8,388.7 59.5,384.2 61.7,382.6 63.9,381.5 66.7,378.1 70.6,375.4 75.0,372.4 80.5,369.8 86.1,368.6 91.6,367.1 97.2,366.0 100.0,363.0 107.0,360.1 114.0,358.3 121.1,357.2 128.1,355.6 135.1,353.7 142.1,351.3 149.1,349.6 156.1,348.2 163.2,344.9 170.2,342.5 176.7,341.1 183.4,338.7 190.2,336.4 195.0,335.0 202.3,333.2 209.6,331.3 216.9,328.8 224.2,325.8 231.5,322.9 234.3,320.1 239.0,315.8 239.7,309.4 244.4,307.2 250.1,299.3" fill="none" stroke="#1f77b4" stroke-width="1.3" stroke-linejoin="round"/>
<polyline points="40.1,453.8 48.9,453.8 48.9,426.4 50.9,425.7 51.6,418.3 54.3,417.6 54.9,410.2 57.0,409.5 58.3,407.5 60.6,403.1 63.4,399.7 65.0,397.0 66.7,390.3 67.8,388.7 71.7,387.0 74.5,383.1 78.3,380.4 82.8,377.6 87.2,374.3 91.6,370.4 96.0,367.6 100.0,366.5 107.0,359.9 114.0,358.3 121.1,356.6 128.1,354.0 135.1,352.1 142.1,350.5 149.1,349.6 156.1,349.0 163.2,347.2 170.2,345.8 178.1,343.1 186.1,340.8 195.0,339.2 202.3,336.8 209.6,334.6 216.9,333.2 220.6,330.6 227.9,328.4 233.0,326.2 234.3,324.4 235.0,321.5 239.3,318.7 240.4,313.7 242.9,311.1 245.1,307.9 248.7,303.6 250.4,299.7" fill="none" stroke="#ff7f0e" stroke-width="1.3" stroke-linejoin="round"/>
<rect x="30.5" y="291.3" width="231.10000000000002" height="172.2" fill="none" stroke="#626262" stroke-width="1"/>
<line x1="28.0" y1="456.79999999999995" x2="30.5" y2="456.79999999999995" stroke="#505050" stroke-width="0.8"/>
<text x="26.5" y="459.66" font-size="8.0" text-anchor="end" fill="#1a1a1a" stroke="#1a1a1a" stroke-width="0.1">−4</text>
<line x1="28.0" y1="430.2" x2="30.5" y2="430.2" stroke="#505050" stroke-width="0.8"/>
<text x="26.5" y="433.06" font-size="8.0" text-anchor="end" fill="#1a1a1a" stroke="#1a1a1a" stroke-width="0.1">−3</text>
<line x1="28.0" y1="403.59999999999997" x2="30.5" y2="403.59999999999997" stroke="#505050" stroke-width="0.8"/>
<text x="26.5" y="406.46" font-size="8.0" text-anchor="end" fill="#1a1a1a" stroke="#1a1a1a" stroke-width="0.1">−2</text>
<line x1="28.0" y1="377.0" x2="30.5" y2="377.0" stroke="#505050" stroke-width="0.8"/>
<text x="26.5" y="379.86" font-size="8.0" text-anchor="end" fill="#1a1a1a" stroke="#1a1a1a" stroke-width="0.1">−1</text>
<line x1="28.0" y1="350.4" x2="30.5" y2="350.4" stroke="#505050" stroke-width="0.8"/>
<text x="26.5" y="353.26" font-size="8.0" text-anchor="end" fill="#1a1a1a" stroke="#1a1a1a" stroke-width="0.1">0</text>
<line x1="28.0" y1="323.79999999999995" x2="30.5" y2="323.79999999999995" stroke="#505050" stroke-width="0.8"/>
<text x="26.5" y="326.66" font-size="8.0" text-anchor="end" fill="#1a1a1a" stroke="#1a1a1a" stroke-width="0.1">1</text>
<line x1="28.0" y1="297.2" x2="30.5" y2="297.2" stroke="#505050" stroke-width="0.8"/>
<text x="26.5" y="300.06" font-size="8.0" text-anchor="end" fill="#1a1a1a" stroke="#1a1a1a" stroke-width="0.1">2</text>
<line x1="40.9" y1="463.5" x2="40.9" y2="466.0" stroke="#505050" stroke-width="0.8"/>
<text x="40.9" y="473.5" font-size="8.0" text-anchor="middle" fill="#1a1a1a" stroke="#1a1a1a" stroke-width="0.1">0</text>
<line x1="75.94999999999999" y1="463.5" x2="75.94999999999999" y2="466.0" stroke="#505050" stroke-width="0.8"/>
<text x="75.95" y="473.5" font-size="8.0" text-anchor="middle" fill="#1a1a1a" stroke="#1a1a1a" stroke-width="0.1">5000</text>
<line x1="111.0" y1="463.5" x2="111.0" y2="466.0" stroke="#505050" stroke-width="0.8"/>
<text x="111.0" y="473.5" font-size="8.0" text-anchor="middle" fill="#1a1a1a" stroke="#1a1a1a" stroke-width="0.1">10000</text>
<line x1="146.04999999999998" y1="463.5" x2="146.04999999999998" y2="466.0" stroke="#505050" stroke-width="0.8"/>
<text x="146.05" y="473.5" font-size="8.0" text-anchor="middle" fill="#1a1a1a" stroke="#1a1a1a" stroke-width="0.1">15000</text>
<line x1="181.1" y1="463.5" x2="181.1" y2="466.0" stroke="#505050" stroke-width="0.8"/>
<text x="181.1" y="473.5" font-size="8.0" text-anchor="middle" fill="#1a1a1a" stroke="#1a1a1a" stroke-width="0.1">20000</text>
<line x1="216.15" y1="463.5" x2="216.15" y2="466.0" stroke="#505050" stroke-width="0.8"/>
<text x="216.15" y="473.5" font-size="8.0" text-anchor="middle" fill="#1a1a1a" stroke="#1a1a1a" stroke-width="0.1">25000</text>
<line x1="251.2" y1="463.5" x2="251.2" y2="466.0" stroke="#505050" stroke-width="0.8"/>
<text x="251.2" y="473.5" font-size="8.0" text-anchor="middle" fill="#1a1a1a" stroke="#1a1a1a" stroke-width="0.1">30000</text>
<text x="145.5" y="485.6" font-size="10.3" text-anchor="middle" fill="#1a1a1a" stroke="#1a1a1a" stroke-width="0.18">sorted by coverage</text>
<text x="12.6" y="377.5" font-size="10.4" text-anchor="middle" fill="#1a1a1a" stroke="#1a1a1a" stroke-width="0.18" transform="rotate(-90 12.6 377.5)">log10 coverage (normalized)</text>
<text x="9.3" y="293.8" font-size="16.8" text-anchor="middle" fill="#1a1a1a" stroke="#1a1a1a" stroke-width="0.18">b</text>
<rect x="165.3" y="426.1" width="91" height="32.3" rx="1.5" fill="#fff" fill-opacity="0.8" stroke="#d6d6d6" stroke-width="0.8"/>
<line x1="168.5" y1="434.3" x2="191" y2="434.3" stroke="#1f77b4" stroke-width="1.3"/>
<line x1="168.5" y1="448.6" x2="191" y2="448.6" stroke="#ff7f0e" stroke-width="1.3"/>
<text x="198.5" y="438.0" font-size="10.2" text-anchor="start" fill="#1a1a1a" stroke="#1a1a1a" stroke-width="0.18">Olivar</text>
<text x="198.5" y="452.3" font-size="10.2" text-anchor="start" fill="#1a1a1a" stroke="#1a1a1a" stroke-width="0.18">ARTIC v4.1</text>
<rect x="311.3" y="336.5" width="243.3" height="65.6" fill="#e8e9bb"/>
<rect x="311.3" y="346.34000000000003" width="243.3" height="45.919999999999995" fill="#aed190"/>
<line x1="311.3" y1="369.3" x2="554.6" y2="369.3" stroke="#3a3a3a" stroke-width="0.9"/>
<line x1="311.3" y1="412.5" x2="554.6" y2="412.5" stroke="#ec5f6d" stroke-width="1.0" stroke-dasharray="2 0.9"/>
<circle cx="373.4" cy="299.6" r="2.45" fill="#3a82bf"/>
<circle cx="369.2" cy="302.8" r="2.45" fill="#3a82bf"/>
<circle cx="372.2" cy="306.7" r="2.45" fill="#3a82bf"/>
<circle cx="376.6" cy="309.2" r="2.45" fill="#3a82bf"/>
<circle cx="372.2" cy="311.4" r="2.45" fill="#3a82bf"/>
<circle cx="374.2" cy="321.2" r="2.45" fill="#3a82bf"/>
<circle cx="367.6" cy="324.9" r="2.45" fill="#3a82bf"/>
<circle cx="372.2" cy="325.8" r="2.45" fill="#3a82bf"/>
<circle cx="380.8" cy="325.4" r="2.45" fill="#3a82bf"/>
<circle cx="363.1" cy="327.6" r="2.45" fill="#3a82bf"/>
<circle cx="376.6" cy="328.2" r="2.45" fill="#3a82bf"/>
<circle cx="355.4" cy="329.5" r="2.45" fill="#3a82bf"/>
<circle cx="367.3" cy="330.1" r="2.45" fill="#3a82bf"/>
<circle cx="372.2" cy="330.7" r="2.45" fill="#3a82bf"/>
<circle cx="359.4" cy="332.3" r="2.45" fill="#3a82bf"/>
<circle cx="380.3" cy="332.8" r="2.45" fill="#3a82bf"/>
<circle cx="385.2" cy="331.9" r="2.45" fill="#3a82bf"/>
<circle cx="364.3" cy="334.4" r="2.45" fill="#3a82bf"/>
<circle cx="371.0" cy="335.2" r="2.45" fill="#3a82bf"/>
<circle cx="375.9" cy="335.0" r="2.45" fill="#3a82bf"/>
<circle cx="383.6" cy="337.7" r="2.45" fill="#3a82bf"/>
<circle cx="365.6" cy="338.7" r="2.45" fill="#3a82bf"/>
<circle cx="372.2" cy="339.3" r="2.45" fill="#3a82bf"/>
<circle cx="379.1" cy="339.7" r="2.45" fill="#3a82bf"/>
<circle cx="349.8" cy="341.4" r="2.45" fill="#3a82bf"/>
<circle cx="355.0" cy="342.1" r="2.45" fill="#3a82bf"/>
<circle cx="359.9" cy="342.4" r="2.45" fill="#3a82bf"/>
<circle cx="368.0" cy="342.6" r="2.45" fill="#3a82bf"/>
<circle cx="375.6" cy="343.0" r="2.45" fill="#3a82bf"/>
<circle cx="384.8" cy="342.4" r="2.45" fill="#3a82bf"/>
<circle cx="389.8" cy="342.1" r="2.45" fill="#3a82bf"/>
<circle cx="394.7" cy="341.8" r="2.45" fill="#3a82bf"/>
<circle cx="363.6" cy="345.8" r="2.45" fill="#3a82bf"/>
<circle cx="371.7" cy="346.1" r="2.45" fill="#3a82bf"/>
<circle cx="380.5" cy="345.8" r="2.45" fill="#3a82bf"/>
<circle cx="354.7" cy="348.8" r="2.45" fill="#3a82bf"/>
<circle cx="359.0" cy="350.4" r="2.45" fill="#3a82bf"/>
<circle cx="366.8" cy="349.1" r="2.45" fill="#3a82bf"/>
<circle cx="376.2" cy="347.9" r="2.45" fill="#3a82bf"/>
<circle cx="385.5" cy="349.7" r="2.45" fill="#3a82bf"/>
<circle cx="390.4" cy="349.5" r="2.45" fill="#3a82bf"/>
<circle cx="372.2" cy="351.7" r="2.45" fill="#3a82bf"/>
<circle cx="380.3" cy="351.1" r="2.45" fill="#3a82bf"/>
<circle cx="363.3" cy="353.5" r="2.45" fill="#3a82bf"/>
<circle cx="368.5" cy="353.8" r="2.45" fill="#3a82bf"/>
<circle cx="376.9" cy="354.5" r="2.45" fill="#3a82bf"/>
<circle cx="385.5" cy="355.4" r="2.45" fill="#3a82bf"/>
<circle cx="372.2" cy="356.6" r="2.45" fill="#3a82bf"/>
<circle cx="362.7" cy="358.4" r="2.45" fill="#3a82bf"/>
<circle cx="368.0" cy="359.0" r="2.45" fill="#3a82bf"/>
<circle cx="381.2" cy="357.2" r="2.45" fill="#3a82bf"/>
<circle cx="348.4" cy="359.7" r="2.45" fill="#3a82bf"/>
<circle cx="353.3" cy="360.3" r="2.45" fill="#3a82bf"/>
<circle cx="358.2" cy="361.5" r="2.45" fill="#3a82bf"/>
<circle cx="362.7" cy="362.7" r="2.45" fill="#3a82bf"/>
<circle cx="371.9" cy="361.9" r="2.45" fill="#3a82bf"/>
<circle cx="376.6" cy="359.4" r="2.45" fill="#3a82bf"/>
<circle cx="381.2" cy="361.9" r="2.45" fill="#3a82bf"/>
<circle cx="386.1" cy="361.5" r="2.45" fill="#3a82bf"/>
<circle cx="391.0" cy="360.9" r="2.45" fill="#3a82bf"/>
<circle cx="395.9" cy="359.7" r="2.45" fill="#3a82bf"/>
<circle cx="400.4" cy="358.2" r="2.45" fill="#3a82bf"/>
<circle cx="348.4" cy="366.0" r="2.45" fill="#3a82bf"/>
<circle cx="357.8" cy="366.4" r="2.45" fill="#3a82bf"/>
<circle cx="367.6" cy="364.6" r="2.45" fill="#3a82bf"/>
<circle cx="372.2" cy="365.8" r="2.45" fill="#3a82bf"/>
<circle cx="376.9" cy="364.6" r="2.45" fill="#3a82bf"/>
<circle cx="386.7" cy="367.0" r="2.45" fill="#3a82bf"/>
<circle cx="352.0" cy="369.2" r="2.45" fill="#3a82bf"/>
<circle cx="362.7" cy="368.0" r="2.45" fill="#3a82bf"/>
<circle cx="367.3" cy="369.5" r="2.45" fill="#3a82bf"/>
<circle cx="372.2" cy="371.3" r="2.45" fill="#3a82bf"/>
<circle cx="376.9" cy="369.5" r="2.45" fill="#3a82bf"/>
<circle cx="381.8" cy="368.5" r="2.45" fill="#3a82bf"/>
<circle cx="393.1" cy="369.2" r="2.45" fill="#3a82bf"/>
<circle cx="355.7" cy="372.6" r="2.45" fill="#3a82bf"/>
<circle cx="360.6" cy="372.9" r="2.45" fill="#3a82bf"/>
<circle cx="365.8" cy="375.0" r="2.45" fill="#3a82bf"/>
<circle cx="370.1" cy="376.2" r="2.45" fill="#3a82bf"/>
<circle cx="375.0" cy="375.6" r="2.45" fill="#3a82bf"/>
<circle cx="379.9" cy="373.4" r="2.45" fill="#3a82bf"/>
<circle cx="384.8" cy="372.9" r="2.45" fill="#3a82bf"/>
<circle cx="389.8" cy="372.2" r="2.45" fill="#3a82bf"/>
<circle cx="348.0" cy="375.9" r="2.45" fill="#3a82bf"/>
<circle cx="352.9" cy="376.6" r="2.45" fill="#3a82bf"/>
<circle cx="357.8" cy="377.5" r="2.45" fill="#3a82bf"/>
<circle cx="362.7" cy="379.1" r="2.45" fill="#3a82bf"/>
<circle cx="367.3" cy="380.5" r="2.45" fill="#3a82bf"/>
<circle cx="372.2" cy="379.9" r="2.45" fill="#3a82bf"/>
<circle cx="377.1" cy="379.1" r="2.45" fill="#3a82bf"/>
<circle cx="382.0" cy="378.7" r="2.45" fill="#3a82bf"/>
<circle cx="386.9" cy="377.1" r="2.45" fill="#3a82bf"/>
<circle cx="391.8" cy="376.6" r="2.45" fill="#3a82bf"/>
<circle cx="351.7" cy="382.8" r="2.45" fill="#3a82bf"/>
<circle cx="356.6" cy="383.0" r="2.45" fill="#3a82bf"/>
<circle cx="361.1" cy="384.8" r="2.45" fill="#3a82bf"/>
<circle cx="365.8" cy="385.7" r="2.45" fill="#3a82bf"/>
<circle cx="372.2" cy="385.7" r="2.45" fill="#3a82bf"/>
<circle cx="377.1" cy="385.2" r="2.45" fill="#3a82bf"/>
<circle cx="383.0" cy="385.2" r="2.45" fill="#3a82bf"/>
<circle cx="387.9" cy="384.2" r="2.45" fill="#3a82bf"/>
<circle cx="392.8" cy="382.8" r="2.45" fill="#3a82bf"/>
<circle cx="397.7" cy="382.4" r="2.45" fill="#3a82bf"/>
<circle cx="352.9" cy="387.3" r="2.45" fill="#3a82bf"/>
<circle cx="357.8" cy="388.9" r="2.45" fill="#3a82bf"/>
<circle cx="362.7" cy="389.8" r="2.45" fill="#3a82bf"/>
<circle cx="367.6" cy="390.1" r="2.45" fill="#3a82bf"/>
<circle cx="372.2" cy="391.0" r="2.45" fill="#3a82bf"/>
<circle cx="377.1" cy="389.8" r="2.45" fill="#3a82bf"/>
<circle cx="382.0" cy="389.4" r="2.45" fill="#3a82bf"/>
<circle cx="386.7" cy="389.4" r="2.45" fill="#3a82bf"/>
<circle cx="391.8" cy="388.5" r="2.45" fill="#3a82bf"/>
<circle cx="367.1" cy="394.9" r="2.45" fill="#3a82bf"/>
<circle cx="374.8" cy="396.6" r="2.45" fill="#3a82bf"/>
<circle cx="379.7" cy="395.3" r="2.45" fill="#3a82bf"/>
<circle cx="370.4" cy="398.5" r="2.45" fill="#3a82bf"/>
<circle cx="362.2" cy="401.8" r="2.45" fill="#3a82bf"/>
<circle cx="367.1" cy="402.3" r="2.45" fill="#3a82bf"/>
<circle cx="372.5" cy="402.8" r="2.45" fill="#3a82bf"/>
<circle cx="380.2" cy="401.8" r="2.45" fill="#3a82bf"/>
<circle cx="384.7" cy="400.7" r="2.45" fill="#3a82bf"/>
<circle cx="372.5" cy="407.2" r="2.45" fill="#3a82bf"/>
<circle cx="377.4" cy="405.6" r="2.45" fill="#3a82bf"/>
<circle cx="367.9" cy="411.0" r="2.45" fill="#3a82bf"/>
<circle cx="372.5" cy="413.8" r="2.45" fill="#3a82bf"/>
<circle cx="377.4" cy="411.3" r="2.45" fill="#3a82bf"/>
<circle cx="381.9" cy="409.7" r="2.45" fill="#3a82bf"/>
<circle cx="363.0" cy="415.5" r="2.45" fill="#3a82bf"/>
<circle cx="367.6" cy="418.2" r="2.45" fill="#3a82bf"/>
<circle cx="372.5" cy="419.2" r="2.45" fill="#3a82bf"/>
<circle cx="377.4" cy="417.6" r="2.45" fill="#3a82bf"/>
<circle cx="381.9" cy="415.5" r="2.45" fill="#3a82bf"/>
<circle cx="372.5" cy="428.1" r="2.45" fill="#3a82bf"/>
<circle cx="376.5" cy="434.0" r="2.45" fill="#3a82bf"/>
<circle cx="367.1" cy="436.8" r="2.45" fill="#3a82bf"/>
<circle cx="372.5" cy="436.8" r="2.45" fill="#3a82bf"/>
<circle cx="362.2" cy="443.9" r="2.45" fill="#3a82bf"/>
<circle cx="367.1" cy="443.9" r="2.45" fill="#3a82bf"/>
<circle cx="372.5" cy="443.9" r="2.45" fill="#3a82bf"/>
<circle cx="377.4" cy="443.9" r="2.45" fill="#3a82bf"/>
<circle cx="372.5" cy="449.9" r="2.45" fill="#3a82bf"/>
<circle cx="362.2" cy="459.8" r="2.45" fill="#3a82bf"/>
<circle cx="367.1" cy="459.8" r="2.45" fill="#3a82bf"/>
<circle cx="372.5" cy="459.8" r="2.45" fill="#3a82bf"/>
<circle cx="377.4" cy="459.8" r="2.45" fill="#3a82bf"/>
<circle cx="382.4" cy="459.8" r="2.45" fill="#3a82bf"/>
<circle cx="496.9" cy="308.6" r="2.45" fill="#fb8b24"/>
<circle cx="488.9" cy="310.8" r="2.45" fill="#fb8b24"/>
<circle cx="493.8" cy="312.5" r="2.45" fill="#fb8b24"/>
<circle cx="488.9" cy="322.7" r="2.45" fill="#fb8b24"/>
<circle cx="498.1" cy="322.1" r="2.45" fill="#fb8b24"/>
<circle cx="493.8" cy="324.6" r="2.45" fill="#fb8b24"/>
<circle cx="491.9" cy="331.3" r="2.45" fill="#fb8b24"/>
<circle cx="493.8" cy="335.9" r="2.45" fill="#fb8b24"/>
<circle cx="498.7" cy="334.6" r="2.45" fill="#fb8b24"/>
<circle cx="486.8" cy="339.9" r="2.45" fill="#fb8b24"/>
<circle cx="491.7" cy="340.8" r="2.45" fill="#fb8b24"/>
<circle cx="500.3" cy="340.8" r="2.45" fill="#fb8b24"/>
<circle cx="504.8" cy="338.7" r="2.45" fill="#fb8b24"/>
<circle cx="495.9" cy="343.0" r="2.45" fill="#fb8b24"/>
<circle cx="484.0" cy="345.2" r="2.45" fill="#fb8b24"/>
<circle cx="489.2" cy="345.2" r="2.45" fill="#fb8b24"/>
<circle cx="493.8" cy="347.3" r="2.45" fill="#fb8b24"/>
<circle cx="501.2" cy="347.3" r="2.45" fill="#fb8b24"/>
<circle cx="504.8" cy="344.0" r="2.45" fill="#fb8b24"/>
<circle cx="488.9" cy="350.4" r="2.45" fill="#fb8b24"/>
<circle cx="497.5" cy="350.4" r="2.45" fill="#fb8b24"/>
<circle cx="460.6" cy="355.3" r="2.45" fill="#fb8b24"/>
<circle cx="464.9" cy="355.9" r="2.45" fill="#fb8b24"/>
<circle cx="469.6" cy="357.7" r="2.45" fill="#fb8b24"/>
<circle cx="474.7" cy="358.7" r="2.45" fill="#fb8b24"/>
<circle cx="479.4" cy="358.7" r="2.45" fill="#fb8b24"/>
<circle cx="487.6" cy="355.5" r="2.45" fill="#fb8b24"/>
<circle cx="492.9" cy="353.1" r="2.45" fill="#fb8b24"/>
<circle cx="501.8" cy="354.7" r="2.45" fill="#fb8b24"/>
<circle cx="496.9" cy="356.5" r="2.45" fill="#fb8b24"/>
<circle cx="491.7" cy="357.7" r="2.45" fill="#fb8b24"/>
<circle cx="507.9" cy="358.7" r="2.45" fill="#fb8b24"/>
<circle cx="512.8" cy="358.7" r="2.45" fill="#fb8b24"/>
<circle cx="517.7" cy="357.1" r="2.45" fill="#fb8b24"/>
<circle cx="522.4" cy="355.9" r="2.45" fill="#fb8b24"/>
<circle cx="484.3" cy="359.6" r="2.45" fill="#fb8b24"/>
<circle cx="503.0" cy="359.2" r="2.45" fill="#fb8b24"/>
<circle cx="488.9" cy="361.7" r="2.45" fill="#fb8b24"/>
<circle cx="493.9" cy="362.0" r="2.45" fill="#fb8b24"/>
<circle cx="498.8" cy="361.7" r="2.45" fill="#fb8b24"/>
<circle cx="479.1" cy="364.8" r="2.45" fill="#fb8b24"/>
<circle cx="484.5" cy="365.0" r="2.45" fill="#fb8b24"/>
<circle cx="489.2" cy="366.6" r="2.45" fill="#fb8b24"/>
<circle cx="495.1" cy="367.8" r="2.45" fill="#fb8b24"/>
<circle cx="500.0" cy="366.0" r="2.45" fill="#fb8b24"/>
<circle cx="504.9" cy="365.0" r="2.45" fill="#fb8b24"/>
<circle cx="509.8" cy="364.8" r="2.45" fill="#fb8b24"/>
<circle cx="467.1" cy="367.5" r="2.45" fill="#fb8b24"/>
<circle cx="471.7" cy="369.4" r="2.45" fill="#fb8b24"/>
<circle cx="476.7" cy="370.7" r="2.45" fill="#fb8b24"/>
<circle cx="481.6" cy="371.1" r="2.45" fill="#fb8b24"/>
<circle cx="486.5" cy="371.5" r="2.45" fill="#fb8b24"/>
<circle cx="491.6" cy="370.9" r="2.45" fill="#fb8b24"/>
<circle cx="502.7" cy="371.1" r="2.45" fill="#fb8b24"/>
<circle cx="507.6" cy="370.7" r="2.45" fill="#fb8b24"/>
<circle cx="512.5" cy="369.7" r="2.45" fill="#fb8b24"/>
<circle cx="517.5" cy="369.4" r="2.45" fill="#fb8b24"/>
<circle cx="493.9" cy="375.6" r="2.45" fill="#fb8b24"/>
<circle cx="498.4" cy="373.6" r="2.45" fill="#fb8b24"/>
<circle cx="488.2" cy="377.7" r="2.45" fill="#fb8b24"/>
<circle cx="479.6" cy="380.7" r="2.45" fill="#fb8b24"/>
<circle cx="484.5" cy="381.7" r="2.45" fill="#fb8b24"/>
<circle cx="492.6" cy="380.7" r="2.45" fill="#fb8b24"/>
<circle cx="497.8" cy="382.2" r="2.45" fill="#fb8b24"/>
<circle cx="502.7" cy="382.2" r="2.45" fill="#fb8b24"/>
<circle cx="507.6" cy="381.3" r="2.45" fill="#fb8b24"/>
<circle cx="512.3" cy="379.7" r="2.45" fill="#fb8b24"/>
<circle cx="488.9" cy="383.8" r="2.45" fill="#fb8b24"/>
<circle cx="493.9" cy="385.4" r="2.45" fill="#fb8b24"/>
<circle cx="491.0" cy="392.8" r="2.45" fill="#fb8b24"/>
<circle cx="484.5" cy="395.2" r="2.45" fill="#fb8b24"/>
<circle cx="495.1" cy="396.1" r="2.45" fill="#fb8b24"/>
<circle cx="503.7" cy="397.3" r="2.45" fill="#fb8b24"/>
<circle cx="488.0" cy="398.9" r="2.45" fill="#fb8b24"/>
<circle cx="492.9" cy="400.2" r="2.45" fill="#fb8b24"/>
<circle cx="499.0" cy="399.2" r="2.45" fill="#fb8b24"/>
<circle cx="496.8" cy="403.1" r="2.45" fill="#fb8b24"/>
<circle cx="501.7" cy="403.1" r="2.45" fill="#fb8b24"/>
<circle cx="487.3" cy="404.7" r="2.45" fill="#fb8b24"/>
<circle cx="492.3" cy="405.9" r="2.45" fill="#fb8b24"/>
<circle cx="498.4" cy="407.8" r="2.45" fill="#fb8b24"/>
<circle cx="488.9" cy="409.0" r="2.45" fill="#fb8b24"/>
<circle cx="494.0" cy="410.1" r="2.45" fill="#fb8b24"/>
<circle cx="488.9" cy="417.3" r="2.45" fill="#fb8b24"/>
<circle cx="494.0" cy="417.8" r="2.45" fill="#fb8b24"/>
<circle cx="498.6" cy="416.5" r="2.45" fill="#fb8b24"/>
<circle cx="492.0" cy="425.8" r="2.45" fill="#fb8b24"/>
<circle cx="488.9" cy="430.4" r="2.45" fill="#fb8b24"/>
<circle cx="494.0" cy="430.4" r="2.45" fill="#fb8b24"/>
<circle cx="493.5" cy="441.5" r="2.45" fill="#fb8b24"/>
<circle cx="483.8" cy="448.8" r="2.45" fill="#fb8b24"/>
<circle cx="488.9" cy="448.8" r="2.45" fill="#fb8b24"/>
<circle cx="494.0" cy="448.8" r="2.45" fill="#fb8b24"/>
<circle cx="498.6" cy="448.8" r="2.45" fill="#fb8b24"/>
<circle cx="503.5" cy="448.8" r="2.45" fill="#fb8b24"/>
<circle cx="483.8" cy="464.5" r="2.45" fill="#fb8b24"/>
<circle cx="488.9" cy="464.5" r="2.45" fill="#fb8b24"/>
<circle cx="494.0" cy="464.5" r="2.45" fill="#fb8b24"/>
<circle cx="498.9" cy="464.5" r="2.45" fill="#fb8b24"/>
<rect x="311.3" y="291.4" width="243.3" height="180.90000000000003" fill="none" stroke="#626262" stroke-width="1"/>
<line x1="308.8" y1="467.7" x2="311.3" y2="467.7" stroke="#505050" stroke-width="0.8"/>
<text x="307.3" y="470.78" font-size="8.6" text-anchor="end" fill="#1a1a1a" stroke="#1a1a1a" stroke-width="0.1">−3</text>
<line x1="308.8" y1="434.9" x2="311.3" y2="434.9" stroke="#505050" stroke-width="0.8"/>
<text x="307.3" y="437.98" font-size="8.6" text-anchor="end" fill="#1a1a1a" stroke="#1a1a1a" stroke-width="0.1">−2</text>
<line x1="308.8" y1="402.1" x2="311.3" y2="402.1" stroke="#505050" stroke-width="0.8"/>
<text x="307.3" y="405.18" font-size="8.6" text-anchor="end" fill="#1a1a1a" stroke="#1a1a1a" stroke-width="0.1">−1</text>
<line x1="308.8" y1="369.3" x2="311.3" y2="369.3" stroke="#505050" stroke-width="0.8"/>
<text x="307.3" y="372.38" font-size="8.6" text-anchor="end" fill="#1a1a1a" stroke="#1a1a1a" stroke-width="0.1">0</text>
<line x1="308.8" y1="336.5" x2="311.3" y2="336.5" stroke="#505050" stroke-width="0.8"/>
<text x="307.3" y="339.58" font-size="8.6" text-anchor="end" fill="#1a1a1a" stroke="#1a1a1a" stroke-width="0.1">1</text>
<line x1="308.8" y1="303.70000000000005" x2="311.3" y2="303.70000000000005" stroke="#505050" stroke-width="0.8"/>
<text x="307.3" y="306.78" font-size="8.6" text-anchor="end" fill="#1a1a1a" stroke="#1a1a1a" stroke-width="0.1">2</text>
<line x1="372.2" y1="472.3" x2="372.2" y2="474.8" stroke="#505050" stroke-width="0.8"/>
<text x="372.2" y="485.5" font-size="10.8" text-anchor="middle" fill="#1a1a1a" stroke="#1a1a1a" stroke-width="0.18">Olivar</text>
<line x1="493.6" y1="472.3" x2="493.6" y2="474.8" stroke="#505050" stroke-width="0.8"/>
<text x="493.6" y="485.5" font-size="10.8" text-anchor="middle" fill="#1a1a1a" stroke="#1a1a1a" stroke-width="0.18">ARTIC v4.1</text>
<text x="292.6" y="382.1" font-size="9.57" text-anchor="middle" fill="#1a1a1a" stroke="#1a1a1a" stroke-width="0.18" transform="rotate(-90 292.6 382.1)">log10 coverage per amplicon (normalized)</text>
<text x="277.9" y="293.6" font-size="16.8" text-anchor="middle" fill="#1a1a1a" stroke="#1a1a1a" stroke-width="0.18">c</text>
<line x1="559" y1="290" x2="684" y2="290" stroke="#ececec" stroke-width="0.8"/>
<line x1="0" y1="286" x2="266" y2="286" stroke="#f0f0f0" stroke-width="1"/>
<line x1="267" y1="290.3" x2="273" y2="290.3" stroke="#c8c8c8" stroke-width="0.8"/>
</svg>
</body></html>
